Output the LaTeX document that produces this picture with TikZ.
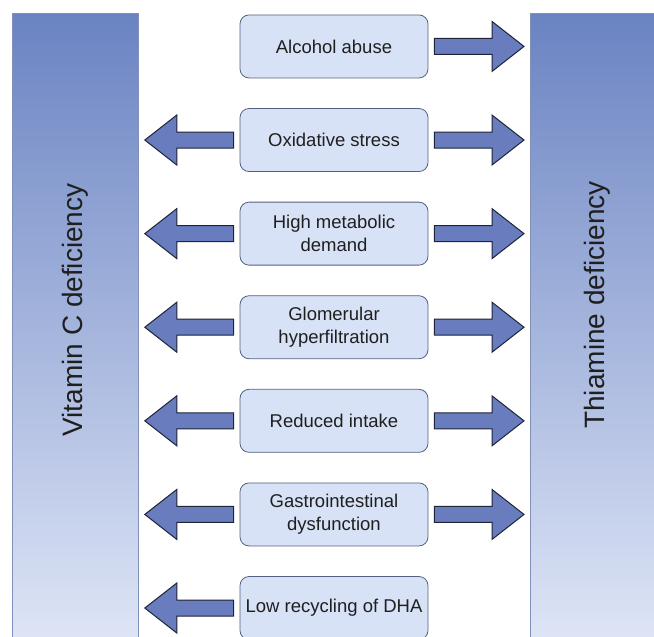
\documentclass[tikz,border=0pt]{standalone}
\usepackage{fontspec}
\setmainfont{Liberation Sans}
\usetikzlibrary{matrix,positioning,calc}

\definecolor{barblue}{RGB}{106,131,194}
\definecolor{barpale}{RGB}{224,231,247}
\definecolor{barline}{RGB}{128,144,186}
\definecolor{boxfill}{RGB}{216,226,246}
\definecolor{boxline}{RGB}{84,96,128}
\definecolor{arrowfill}{RGB}{104,124,190}
\definecolor{arrowline}{RGB}{30,36,56}

\tikzset{
	bar/.style={draw=barline, line width=.8pt, top color=barblue, bottom color=barpale,
		anchor=north west, minimum height=640pt, inner sep=0pt},
	vlabel/.style={rotate=90, font=\fontsize{28}{32}\selectfont, text=black!88},
	cause/.style={draw=boxline, line width=.8pt, fill=boxfill, rounded corners=9pt,
		minimum width=188pt, minimum height=63pt, align=center, inner sep=2pt,
		font=\fontsize{18.5}{23}\selectfont, text=black!88},
	fatarrow/.style={draw=arrowline, fill=arrowfill, line width=1pt, line join=miter},
}

% block arrow from #1 (tail) to #2 (tip)
\newcommand{\fatarrow}[2]{%
	\coordinate (fa1) at (#1);
	\coordinate (fa2) at (#2);
	\coordinate (tl) at ($(fa1)!6pt!(fa2)$);
	\coordinate (tp) at ($(fa2)!6pt!(fa1)$);
	\coordinate (hd) at ($(tp)!32pt!(tl)$);
	\path[fatarrow]
		($(tl)!8pt!90:(tp)$) -- ($(hd)!8pt!-90:(tl)$) -- ($(hd)!25pt!-90:(tl)$) -- (tp)
		-- ($(hd)!25pt!90:(tl)$) -- ($(hd)!8pt!90:(tl)$) -- ($(tl)!8pt!-90:(tp)$) -- cycle;
}

\begin{document}
\begin{tikzpicture}[x=1pt,y=-1pt]
	\useasboundingbox (0,0) rectangle (654,637);
	\clip (0,0) rectangle (654,637);

	\node[bar, minimum width=126pt] (vitc) at (12,13) {};
	\node[bar, minimum width=140pt] (thia) at (530,13) {};
	\node[vlabel] (vitclbl) at (75,310) {Vitamin C deficiency};
	\node[vlabel] (thialbl) at (597,305) {Thiamine deficiency};

	\matrix (m) [
		anchor=north,
		row sep=29.8pt,
	] at (334,11)
	{
		\node[cause] (alc) {Alcohol abuse}; \\
		\node[cause] (oxi) {Oxidative stress}; \\
		\node[cause] (meta) {High metabolic\\demand}; \\
		\node[cause] (glom) {Glomerular\\hyperfiltration}; \\
		\node[cause] (intake) {Reduced intake}; \\
		\node[cause] (gi) {Gastrointestinal\\dysfunction}; \\
		\node[cause] (dha) {Low recycling of DHA}; \\
	};

	\foreach \n in {oxi,meta,glom,intake,gi,dha}
		\fatarrow{\n.west}{vitc.east |- \n.west};
	\foreach \n in {alc,oxi,meta,glom,intake,gi}
		\fatarrow{\n.east}{thia.west |- \n.east};
\end{tikzpicture}
\end{document}
